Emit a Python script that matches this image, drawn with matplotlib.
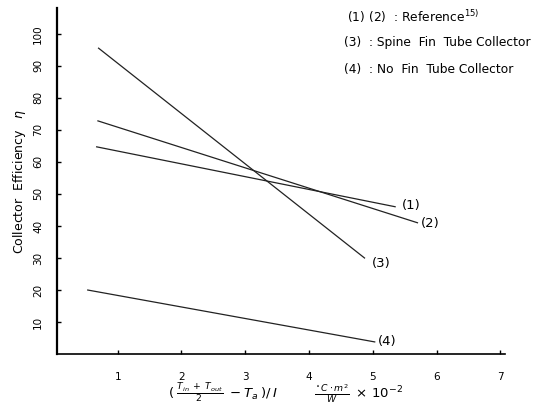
import matplotlib.pyplot as plt

# line end points: (x, eta)
line1_x = [0.67, 5.35]
line1_y = [64.7, 46.0]
line2_x = [0.69, 5.70]
line2_y = [72.8, 41.0]
line3_x = [0.70, 4.87]
line3_y = [95.5, 30.0]
line4_x = [0.53, 5.03]
line4_y = [20.0, 3.8]

curve_labels = ["(1)", "(2)", "(3)", "(4)"]
label_x = [5.45, 5.75, 4.98, 5.08]
label_y = [46.3, 40.8, 28.3, 3.9]

xticks = [1, 2, 3, 4, 5, 6, 7]
yticks = [10, 20, 30, 40, 50, 60, 70, 80, 90, 100]

legend_lines = ["(1) (2)  : Reference$^{15)}$",
                "(3)  : Spine  Fin  Tube Collector",
                "(4)  : No  Fin  Tube Collector"]

fig = plt.figure(figsize=(5.44, 4.07), dpi=100)
ax = fig.add_axes([0.105, 0.130, 0.823, 0.850])

for xs, ys in [(line1_x, line1_y), (line2_x, line2_y),
               (line3_x, line3_y), (line4_x, line4_y)]:
    ax.plot(xs, ys, color="#222222", lw=0.9)

for t, x, y in zip(curve_labels, label_x, label_y):
    ax.text(x, y, t, fontsize=9.5, va="center", ha="left")

ax.set_xlim(0.05, 7.07)
ax.set_ylim(0, 108)
ax.spines["top"].set_visible(False)
ax.spines["right"].set_visible(False)
ax.spines["left"].set_linewidth(1.6)
ax.spines["bottom"].set_linewidth(1.2)

ax.set_xticks(xticks)
ax.set_yticks(yticks)
ax.tick_params(direction="in", length=3, width=1, labelsize=7.5)
ax.tick_params(axis="x", pad=13)
for lab in ax.get_yticklabels():
    lab.set_rotation(90)
    lab.set_va("center")
ax.tick_params(axis="y", pad=10)

ax.set_ylabel(r"Collector  Efficiency   $\eta$", fontsize=9, labelpad=4)
fig.text(0.41, 0.033,
         r"$(\;\frac{T_{in}\;+\;T_{out}}{2}\;-T_a\;)/\,I$",
         fontsize=9.5, ha="center", va="center")
fig.text(0.66, 0.033, r"$\frac{^\circ C\cdot m^2}{W}\;\times\,10^{-2}$",
         fontsize=9.5, ha="center", va="center")

for i, t in enumerate(legend_lines):
    fig.text(0.638 if i == 0 else 0.632, 0.96 - i * 0.065, t,
             fontsize=8.8, ha="left", va="center")

fig.savefig("out.png", dpi=100)
